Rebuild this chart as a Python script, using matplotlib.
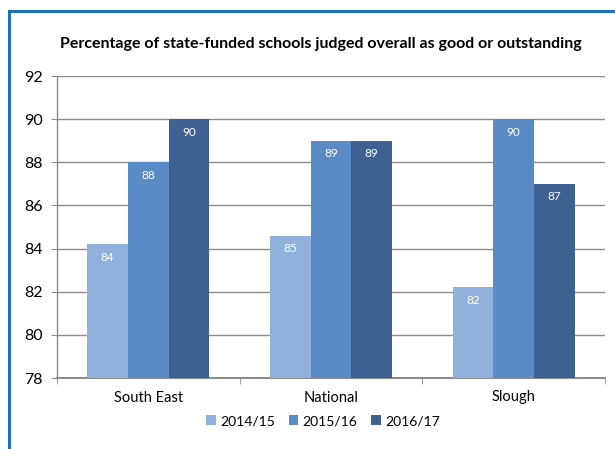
import matplotlib.pyplot as plt
import matplotlib.patches as patches
import numpy as np

plt.rcParams['font.family'] = ['Lato', 'DejaVu Sans']

categories = ["South East", "National", "Slough"]
series = ["2014/15", "2015/16", "2016/17"]
v1415 = [84.2, 84.6, 82.2]
v1516 = [88.0, 89.0, 90.0]
v1617 = [90.0, 89.0, 87.0]
labels = [[84, 85, 82], [88, 89, 90], [90, 89, 87]]
colors = ["#8FB1DC", "#5B8BC7", "#3D6191"]

fig = plt.figure(figsize=(6.15, 4.49), dpi=100)
ax = fig.add_axes([57 / 615, 1 - 378 / 449, 548 / 615, 302 / 449])

# blue frame around the chart, clipped on the right
fig.patches.append(patches.Rectangle((9 / 615, -0.1), 1.0, 1 - 11 / 449 + 0.1,
                                     transform=fig.transFigure, fill=False,
                                     edgecolor="#1F6FC0", linewidth=2.2))

x = np.arange(len(categories))
w = 0.223
for i, vals in enumerate([v1415, v1516, v1617]):
    pos = x + (i - 1) * w
    ax.bar(pos, np.array(vals) - 78, width=w, bottom=78, color=colors[i],
           label=series[i], zorder=3)
    for p, v, lab in zip(pos, vals, labels[i]):
        ax.text(p, v - 0.35, str(lab), ha="center", va="top", color="white",
                fontsize=8.5, zorder=4)

ax.set_xlim(-0.5, 2.5)
ax.set_ylim(78, 92)
ax.set_yticks(np.arange(78, 93, 2))
ax.yaxis.grid(True, color="#8C8C8C", linewidth=1.0, zorder=0)
ax.set_xticks(x)
ax.set_xticklabels(categories, fontsize=10.5)
ax.set_xticks([-0.5, 0.5, 1.5, 2.5], minor=True)
ax.tick_params(axis="x", which="major", length=0, pad=9)
ax.tick_params(axis="x", which="minor", length=4, color="#8C8C8C")
ax.tick_params(axis="y", length=4, color="#8C8C8C", labelsize=11.5, pad=6)
for s in ["top", "right"]:
    ax.spines[s].set_visible(False)
ax.spines["left"].set_color("#8C8C8C")
ax.spines["bottom"].set_color("#8C8C8C")
ax.spines["left"].set_linewidth(1.0)
ax.spines["bottom"].set_linewidth(1.5)

fig.text(321 / 615, 1 - 44 / 449, "Percentage of state-funded schools judged overall as good or outstanding",
         ha="center", va="center", fontsize=11.5, fontweight="bold")

fig.legend(loc="center", bbox_to_anchor=(323 / 615, 1 - 421 / 449), ncol=3,
           frameon=False, fontsize=10, handlelength=0.7, handleheight=0.7,
           handletextpad=0.3, columnspacing=1.0)

fig.savefig("out.png", dpi=100)
